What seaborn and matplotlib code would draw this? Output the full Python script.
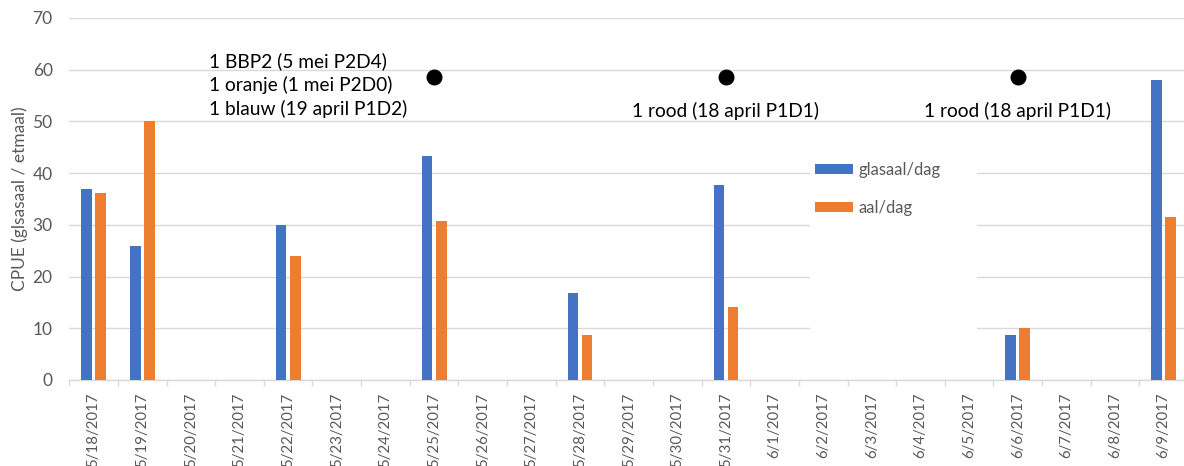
import numpy as np
import pandas as pd
import matplotlib
matplotlib.use("Agg")
import matplotlib.pyplot as plt
from matplotlib.patches import Rectangle
import seaborn as sns

# Daily catch per unit effort
dates = ["5/18/2017", "5/19/2017", "5/20/2017", "5/21/2017", "5/22/2017",
         "5/23/2017", "5/24/2017", "5/25/2017", "5/26/2017", "5/27/2017",
         "5/28/2017", "5/29/2017", "5/30/2017", "5/31/2017", "6/1/2017",
         "6/2/2017", "6/3/2017", "6/4/2017", "6/5/2017", "6/6/2017",
         "6/7/2017", "6/8/2017", "6/9/2017"]
glasaal = [37.0, 26.0, 0, 0, 30.0, 0, 0, 43.4, 0, 0, 16.8, 0, 0, 37.7,
           0, 0, 0, 0, 0, 8.7, 0, 0, 58.1]
aal = [36.1, 50.0, 0, 0, 23.9, 0, 0, 30.7, 0, 0, 8.7, 0, 0, 14.2,
       0, 0, 0, 0, 0, 10.0, 0, 0, 31.6]
series_names = ["glasaal/dag", "aal/dag"]

# Marked recapture days
marker_dates = ["5/25/2017", "5/31/2017", "6/6/2017"]
marker_value = 58.5
marker_notes = ["1 BBP2 (5 mei P2D4)\n1 oranje (1 mei P2D0)\n1 blauw (19 april P1D2)",
                "1 rood (18 april P1D1)",
                "1 rood (18 april P1D1)"]

y_ticks = [0, 10, 20, 30, 40, 50, 60, 70]

df = pd.DataFrame({
    "datum": dates * 2,
    "reeks": [series_names[0]] * len(dates) + [series_names[1]] * len(dates),
    "CPUE": glasaal + aal,
})

sns.set_theme(style="white")
plt.rcParams["font.family"] = ["Lato", "DejaVu Sans"]

grey_text = "#595959"
grid_col = "#D9D9D9"

W, H = 1184, 466
fig = plt.figure(figsize=(W / 100, H / 100), dpi=100)
ax_l, ax_r, ax_b, ax_t = 69.3, 1188.0, 380.0, 18.0
ax = fig.add_axes([ax_l / W, 1 - ax_b / H, (ax_r - ax_l) / W, (ax_b - ax_t) / H])

sns.barplot(data=df, x="datum", y="CPUE", hue="reeks", order=dates,
            hue_order=series_names, palette=["#4472C4", "#ED7D31"],
            width=0.58, gap=0.24, linewidth=0, saturation=1, errorbar=None,
            ax=ax, zorder=3)

ax.set_xlim(-0.5, len(dates) - 0.5)
ax.set_ylim(0, 70)
ax.set_yticks(y_ticks)
ax.yaxis.grid(True, color=grid_col, linewidth=1.0, zorder=0)
ax.set_axisbelow(True)
for side in ["left", "right", "top"]:
    ax.spines[side].set_visible(False)
ax.spines["bottom"].set_color(grid_col)
ax.spines["bottom"].set_linewidth(1.0)

ax.tick_params(axis="y", length=0, pad=12, labelsize=12.5, labelcolor=grey_text)
ax.set_xticks(range(len(dates)))
ax.set_xticklabels(dates, rotation=90)
ax.set_xticks(np.arange(-0.5, len(dates), 1.0), minor=True)
ax.tick_params(axis="x", which="major", length=0, pad=9, labelsize=10.8,
               labelcolor=grey_text)
ax.tick_params(axis="x", which="minor", length=4, width=1.0, color=grid_col,
               bottom=True)
ax.set_xlabel("")
ax.set_ylabel("CPUE (glsasaal / etmaal)", fontsize=12.5, color=grey_text)
ax.yaxis.set_label_coords((28 - ax_l) / (ax_r - ax_l), 0.5)

# Recapture markers and notes
mx = [dates.index(d) for d in marker_dates]
ax.plot(mx, [marker_value] * len(mx), "o", color="black", markersize=10.5,
        zorder=5)
note_size = 13.8
ax.text(2.37, 57.0, marker_notes[0], ha="left", va="center", fontsize=note_size,
        color="black", linespacing=1.4, zorder=5)
ax.text(mx[1], 52.0, marker_notes[1], ha="center", va="center",
        fontsize=note_size, color="black", zorder=5)
ax.text(mx[2], 52.0, marker_notes[2], ha="center", va="center",
        fontsize=note_size, color="black", zorder=5)

# Legend on a white panel over the gridlines
span = ax_r - ax_l
ax.add_patch(Rectangle(((810 - ax_l) / span, (ax_b - 345) / 362),
                       (977 - 810) / span, (345 - 138) / 362,
                       transform=ax.transAxes, facecolor="white",
                       edgecolor="none", zorder=1))
leg = ax.legend(loc="upper left",
                bbox_to_anchor=((815 - ax_l) / span, (ax_b - 162) / 362),
                frameon=False, fontsize=12, handlelength=2.3,
                handleheight=0.55, handletextpad=0.3, labelspacing=1.3,
                borderpad=0, borderaxespad=0)
for t in leg.get_texts():
    t.set_color(grey_text)
leg.set_zorder(6)

fig.savefig("out.png", dpi=100)
